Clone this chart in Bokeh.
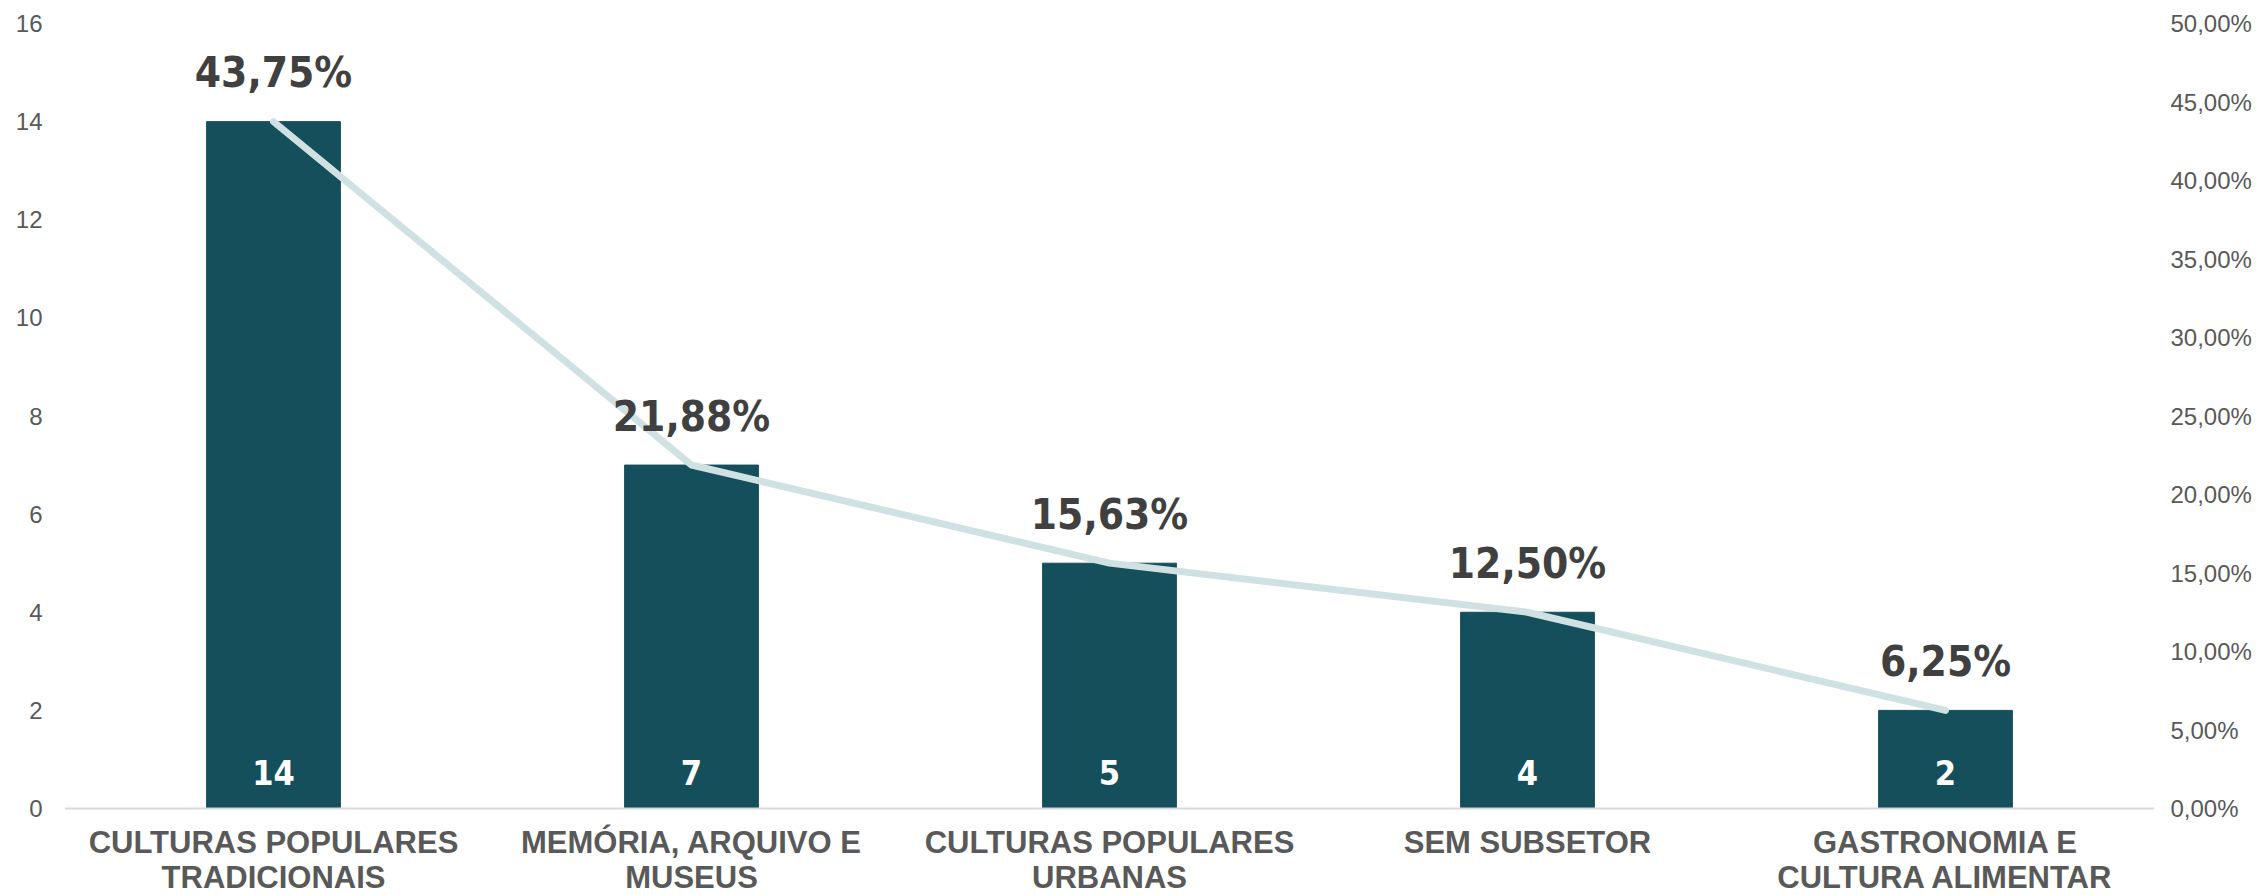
from bokeh.plotting import figure
from bokeh.models import (Range1d, LinearAxis, FixedTicker, ColumnDataSource,
                          FactorRange, Span)
from bokeh.core.properties import value
from bokeh.embed import file_html
from bokeh.resources import INLINE

categories = ["CULTURAS POPULARES TRADICIONAIS", "MEMÓRIA, ARQUIVO E MUSEUS",
              "CULTURAS POPULARES URBANAS", "SEM SUBSETOR", "GASTRONOMIA E CULTURA ALIMENTAR"]
label_line1 = ["CULTURAS POPULARES", "MEMÓRIA, ARQUIVO E", "CULTURAS POPULARES",
               "SEM SUBSETOR", "GASTRONOMIA E"]
label_line2 = ["TRADICIONAIS", "MUSEUS", "URBANAS", "", "CULTURA ALIMENTAR"]
counts = [14, 7, 5, 4, 2]
shares = [0.4375, 0.2188, 0.1563, 0.1250, 0.0625]
share_labels = ["43,75%", "21,88%", "15,63%", "12,50%", "6,25%"]
left_ticks = [0, 2, 4, 6, 8, 10, 12, 14, 16]
right_ticks = [0.0, 0.05, 0.10, 0.15, 0.20, 0.25, 0.30, 0.35, 0.40, 0.45, 0.50]
right_tick_labels = ["0,00%", "5,00%", "10,00%", "15,00%", "20,00%", "25,00%",
                     "30,00%", "35,00%", "40,00%", "45,00%", "50,00%"]

# layout (pixels)
W, H = 2261, 895
TOP, LEFT, RIGHT = 23, 64, 107
BASE = 808                       # pixel row of the zero line
span_px = BASE - TOP             # pixels from 0 to the axis maximum
below_frac = (H - BASE) / span_px

y_max, pct_max = 16, 0.5
p = figure(width=W, height=H, output_backend="svg", toolbar_location=None,
           x_range=FactorRange(*categories, range_padding=0),
           y_range=Range1d(-below_frac * y_max, y_max),
           x_axis_location=None,
           min_border_left=LEFT, min_border_right=RIGHT, min_border_top=TOP,
           min_border_bottom=0)
p.extra_y_ranges = {"pct": Range1d(-below_frac * pct_max, pct_max)}
p.outline_line_color = None
p.xgrid.visible = False
p.ygrid.visible = False
p.background_fill_color = "white"
p.border_fill_color = "white"

src = ColumnDataSource(dict(cat=categories, cnt=counts, share=shares,
                            slab=share_labels, clab=[str(c) for c in counts],
                            l1=label_line1, l2=label_line2,
                            zero=[0] * len(counts)))

# baseline
p.add_layout(Span(location=0, dimension="width", line_color="#D9D9D9", line_width=2))

p.vbar(x="cat", top="cnt", width=0.32, source=src, color="#154F5C")
p.line(x="cat", y="share", source=src, y_range_name="pct", line_color="#D0E1E4",
       line_width=7, line_cap="round", line_join="round")

cond = "DejaVu Sans Condensed"
p.text(x="cat", y="cnt", text="slab", source=src, text_align="center",
       text_baseline="middle", y_offset=-49, text_font=value(cond),
       text_font_style="bold", text_font_size="42px", text_color="#404040")
p.text(x="cat", y="zero", text="clab", source=src, text_align="center",
       text_baseline="middle", y_offset=-36, text_font=value(cond),
       text_font_style="bold", text_font_size="34px", text_color="white")

# category labels (two lines)
for col, off in (("l1", 34), ("l2", 69)):
    p.text(x="cat", y="zero", text=col, source=src, text_align="center",
           text_baseline="middle", y_offset=off, text_font=value("Liberation Sans"),
           text_font_style="bold", text_font_size="31px", text_color="#595959")

# left axis
ax = p.yaxis[0]
ax.ticker = FixedTicker(ticks=left_ticks)
ax.axis_line_color = None
ax.major_tick_line_color = None
ax.minor_tick_line_color = None
ax.major_tick_out = 0
ax.major_label_text_font = "Liberation Sans"
ax.major_label_text_font_size = "24px"
ax.major_label_text_color = "#595959"
ax.major_label_standoff = 22

# right axis
ra = LinearAxis(y_range_name="pct", ticker=FixedTicker(ticks=right_ticks))
ra.major_label_overrides = {t: l for t, l in zip(right_ticks, right_tick_labels)}
ra.axis_line_color = None
ra.major_tick_line_color = None
ra.minor_tick_line_color = None
ra.major_tick_out = 0
ra.major_label_text_font = "Liberation Sans"
ra.major_label_text_font_size = "24px"
ra.major_label_text_color = "#595959"
ra.major_label_standoff = 16
p.add_layout(ra, "right")

open("out.html", "w").write(file_html(p, INLINE))
